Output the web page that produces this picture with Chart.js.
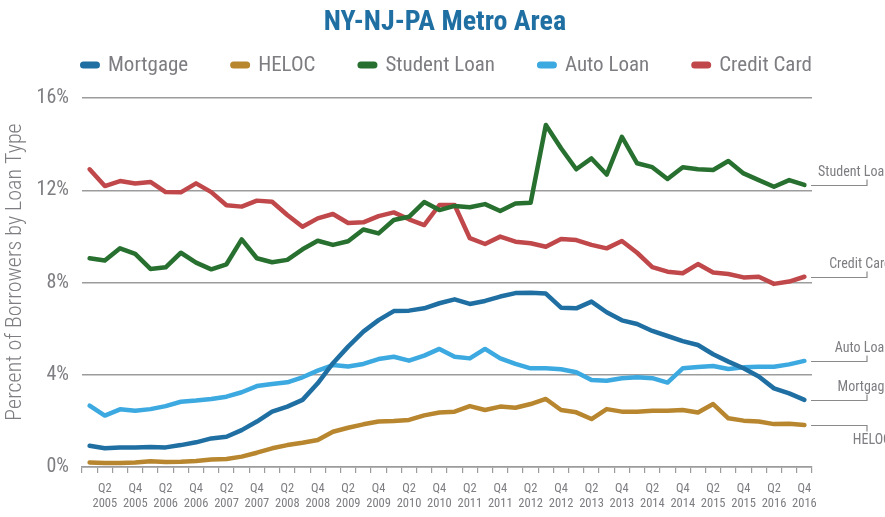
<!DOCTYPE html>
<html>
<head>
<meta charset="utf-8">
<script src="https://cdn.jsdelivr.net/npm/chart.js@4.4.1/dist/chart.umd.min.js"></script>
<style>
html,body{margin:0;padding:0;background:#fff;}
#wrap{width:885px;height:517px;position:relative;}
</style>
</head>
<body>
<div id="wrap"><canvas id="c" width="885" height="517"></canvas></div>
<script>
const chartTitle = 'NY-NJ-PA Metro Area';
const yAxisTitle = 'Percent of Borrowers by Loan Type';
const quarters = [
 'Q1 2005','Q2 2005','Q3 2005','Q4 2005','Q1 2006','Q2 2006','Q3 2006','Q4 2006',
 'Q1 2007','Q2 2007','Q3 2007','Q4 2007','Q1 2008','Q2 2008','Q3 2008','Q4 2008',
 'Q1 2009','Q2 2009','Q3 2009','Q4 2009','Q1 2010','Q2 2010','Q3 2010','Q4 2010',
 'Q1 2011','Q2 2011','Q3 2011','Q4 2011','Q1 2012','Q2 2012','Q3 2012','Q4 2012',
 'Q1 2013','Q2 2013','Q3 2013','Q4 2013','Q1 2014','Q2 2014','Q3 2014','Q4 2014',
 'Q1 2015','Q2 2015','Q3 2015','Q4 2015','Q1 2016','Q2 2016','Q3 2016','Q4 2016'
];
const seriesNames = ['Mortgage','HELOC','Student Loan','Auto Loan','Credit Card'];
const mortgage = [0.92,0.81,0.85,0.85,0.87,0.85,0.95,1.07,1.24,1.31,1.60,1.97,2.40,2.62,2.91,3.63,4.50,5.22,
  5.87,6.37,6.76,6.78,6.88,7.10,7.27,7.07,7.20,7.39,7.54,7.56,7.52,6.91,6.88,7.17,6.71,6.36,
  6.20,5.90,5.68,5.46,5.29,4.89,4.57,4.28,3.92,3.41,3.19,2.91];
const heloc = [0.20,0.17,0.17,0.20,0.25,0.22,0.23,0.26,0.33,0.35,0.45,0.62,0.81,0.95,1.05,1.17,1.53,1.70,
  1.85,1.97,1.99,2.04,2.24,2.36,2.40,2.64,2.47,2.62,2.57,2.73,2.95,2.47,2.37,2.08,2.51,2.40,
  2.40,2.44,2.44,2.47,2.36,2.73,2.11,2.01,1.97,1.86,1.88,1.82];
const studentLoan = [9.05,8.95,9.48,9.24,8.59,8.66,9.29,8.86,8.57,8.79,9.87,9.05,8.88,8.98,9.44,9.81,9.63,9.79,
  10.30,10.13,10.71,10.85,11.49,11.14,11.32,11.26,11.40,11.10,11.43,11.46,14.83,13.82,12.91,13.38,12.68,14.32,
  13.17,13.00,12.49,13.00,12.91,12.88,13.27,12.73,12.44,12.15,12.44,12.23];
const autoLoan = [2.66,2.23,2.50,2.44,2.51,2.64,2.83,2.88,2.95,3.05,3.24,3.51,3.60,3.67,3.89,4.18,4.42,4.36,
  4.47,4.68,4.78,4.61,4.83,5.12,4.78,4.71,5.12,4.71,4.47,4.28,4.28,4.24,4.11,3.77,3.74,3.85,
  3.89,3.85,3.66,4.28,4.34,4.38,4.25,4.32,4.35,4.35,4.45,4.60];
const creditCard = [12.91,12.18,12.40,12.29,12.36,11.92,11.91,12.30,11.92,11.35,11.29,11.55,11.50,10.93,10.42,10.78,10.97,10.58,
  10.61,10.88,11.04,10.74,10.49,11.36,11.36,9.92,9.67,9.99,9.77,9.70,9.55,9.89,9.84,9.63,9.48,9.80,
  9.29,8.67,8.47,8.40,8.80,8.43,8.37,8.22,8.25,7.94,8.04,8.25];
const yTicks = [0,4,8,12,16];

const colors = ['#1f6fa3','#b8862e','#27702f','#3ca9e0','#c0484a'];
const FONT = "'Roboto Condensed','Liberation Sans Narrow','DejaVu Sans Condensed','Arial Narrow',Roboto,sans-serif";
const GRAY = '#7d7d82';
const GRID = '#9c9c9c';

const allSeries = [mortgage, heloc, studentLoan, autoLoan, creditCard];

const headerPlugin = {
  id: 'header',
  afterDraw(chart) {
    const ctx = chart.ctx;
    ctx.save();
    // title
    ctx.fillStyle = '#1f6fa3';
    ctx.font = "bold 28px " + FONT;
    ctx.textAlign = 'center';
    ctx.textBaseline = 'alphabetic';
    ctx.fillText(chartTitle, 445, 30);
    // y-axis title
    ctx.save();
    ctx.translate(15, 272);
    ctx.rotate(-Math.PI/2);
    ctx.font = "300 22px " + FONT;
    ctx.fillStyle = GRAY;
    ctx.textAlign = 'center';
    ctx.textBaseline = 'middle';
    ctx.fillText(yAxisTitle, 0, 0);
    ctx.restore();
    // legend
    ctx.font = "21px " + FONT;
    ctx.textBaseline = 'middle';
    const mw = 20, mh = 7, g1 = 8, gap = 42;
    const widths = chart.data.datasets.map(d => ctx.measureText(d.label).width);
    let total = 0;
    widths.forEach((w,i)=>{ total += mw + g1 + w + (i < widths.length-1 ? gap : 0); });
    let x = 446 - total/2;
    const y = 65;
    chart.data.datasets.forEach((d,i)=>{
      ctx.fillStyle = d.borderColor;
      ctx.beginPath();
      ctx.roundRect(x, y - mh/2, mw, mh, mh/2);
      ctx.fill();
      ctx.fillStyle = GRAY;
      ctx.textAlign = 'left';
      ctx.fillText(d.label, x + mw + g1, y + 1);
      x += mw + g1 + widths[i] + gap;
    });
    // right-side labels with leader lines
    const area = chart.chartArea;
    const ys = chart.scales.y;
    ctx.font = "14px " + FONT;
    ctx.strokeStyle = '#8a8a8a';
    ctx.lineWidth = 1.2;
    ctx.textBaseline = 'alphabetic';
    chart.data.datasets.forEach((d)=>{
      const v = d.data[d.data.length-1];
      const ly = Math.round(ys.getPixelForValue(v)) + 0.5;
      const below = d.label === 'HELOC';
      const x1 = area.right - 1, x2 = area.right + 55;
      ctx.beginPath();
      ctx.moveTo(x1, ly);
      ctx.lineTo(x2, ly);
      ctx.lineTo(x2, ly + (below ? 6 : -6));
      ctx.stroke();
      ctx.fillStyle = GRAY;
      ctx.textAlign = 'right';
      ctx.fillText(d.label, 891, ly + (below ? 18.5 : -10));
    });
    ctx.restore();
  }
};

new Chart(document.getElementById('c'), {
  type: 'line',
  data: {
    labels: quarters,
    datasets: seriesNames.map((n,i)=>({
      label: n,
      data: allSeries[i],
      borderColor: colors[i],
      backgroundColor: colors[i],
      borderWidth: 4.5,
      pointRadius: 0,
      tension: 0,
      borderJoinStyle: 'round',
      borderCapStyle: 'round',
      fill: false
    }))
  },
  options: {
    responsive: false,
    animation: false,
    layout: { padding: { top: 98, right: 73, bottom: 0, left: 0 } },
    plugins: {
      legend: { display: false },
      title: { display: false },
      tooltip: { enabled: false }
    },
    scales: {
      x: {
        offset: true,
        grid: { display: true, drawOnChartArea: false, drawTicks: true, tickLength: 6, color: GRID, lineWidth: 1.2, offset: true },
        border: { display: true, color: GRID, width: 1.5 },
        ticks: {
          autoSkip: false, maxRotation: 0, minRotation: 0, padding: 8,
          color: GRAY, font: { family: FONT, size: 12.5, lineHeight: 1.22 },
          callback: function(val, idx) {
            const q = quarters[idx];
            if (idx % 2 === 0) return '';
            return q.split(' ');
          }
        },
        afterFit(scale) { scale.height = 50; }
      },
      y: {
        min: 0, max: 16,
        afterBuildTicks(scale) { scale.ticks = yTicks.map(v => ({ value: v })); },
        grid: { color: GRID, lineWidth: 1.5, drawTicks: false },
        border: { display: false },
        ticks: {
          padding: 13, color: GRAY, font: { family: FONT, size: 20 },
          callback: v => v + '%'
        },
        title: { display: false },
        afterFit(scale) { scale.width = 82; }
      }
    }
  },
  plugins: [headerPlugin]
});
</script>
</body>
</html>
